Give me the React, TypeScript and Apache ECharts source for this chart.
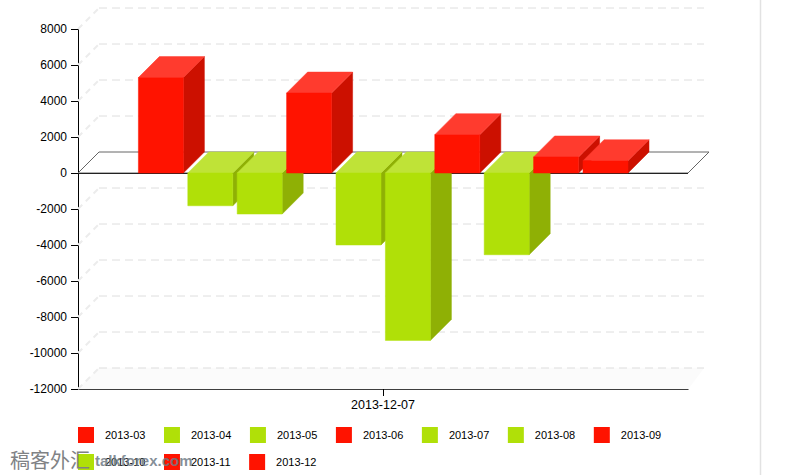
import React, { useEffect, useRef } from "react";
import * as echarts from "echarts";

const categories = ["2013-12-07"];
const seriesNames = ["2013-03", "2013-04", "2013-05", "2013-06", "2013-07", "2013-08", "2013-09", "2013-10", "2013-11", "2013-12"];
const seriesValues = [5300, -1820, -2280, 4440, -4000, -9300, 2130, -4540, 890, 680];
const gridTicks = [8000, 6000, 4000, 2000, -2000, -4000, -6000, -8000, -10000, -12000];
const legendRowOne = seriesNames.slice(0, 7);
const legendRowTwo = seriesNames.slice(7);

const RED = { front: "#ff1300", top: "#ff3b2e", side: "#cc1000" };
const GREEN = { front: "#b0e008", top: "#bfe337", side: "#8fb005" };
const DEPTH = 21;
const BAR_WIDTH = 45;
const BAR_PITCH = 49.4;
const BAR_SHIFT = 0.2;

function polygon(points: number[][], fill: string, z2 = 0) {
  return { type: "polygon", silent: true, z2, shape: { points }, style: { fill, stroke: fill, lineWidth: 0.5 } };
}

function renderBar(params: any, api: any) {
  const index = params.seriesIndex - 1;
  const count = seriesNames.length;
  const center = api.coord([api.value(0), 0])[0];
  const x0 = center + BAR_SHIFT + (index - (count - 1) / 2) * BAR_PITCH - BAR_WIDTH / 2;
  const x1 = x0 + BAR_WIDTH;
  const yZero = api.coord([api.value(0), 0])[1];
  const yValue = api.coord([api.value(0), api.value(1)])[1];
  const yTop = Math.min(yZero, yValue);
  const yBottom = Math.max(yZero, yValue);
  const c = api.value(1) >= 0 ? RED : GREEN;
  return {
    type: "group",
    children: [
      polygon([[x1, yTop], [x1 + DEPTH, yTop - DEPTH], [x1 + DEPTH, yBottom - DEPTH], [x1, yBottom]], c.side),
      polygon([[x0, yTop], [x0 + DEPTH, yTop - DEPTH], [x1 + DEPTH, yTop - DEPTH], [x1, yTop]], c.top),
      polygon([[x0, yTop], [x1, yTop], [x1, yBottom], [x0, yBottom]], c.front),
    ],
  };
}

function renderBackdrop(params: any, api: any) {
  const sys = params.coordSys;
  const left = sys.x;
  const right = sys.x + sys.width;
  const y = api.coord([api.value(0), api.value(1)])[1];
  const dash = { stroke: "#dedede", lineWidth: 1, lineDash: [8, 5] };
  const children: any[] = [
    { type: "line", silent: true, shape: { x1: left, y1: y, x2: left + DEPTH, y2: y - DEPTH }, style: { stroke: "#ececec", lineWidth: 2, lineDash: [6, 5] } },
    { type: "line", silent: true, shape: { x1: left + DEPTH, y1: y - DEPTH, x2: right + 16, y2: y - DEPTH }, style: dash },
  ];
  if (api.value(1) === gridTicks[gridTicks.length - 1]) {
    children.unshift(polygon([[left, y], [left + DEPTH, y - DEPTH], [right + 16, y - DEPTH], [right, y]], "#fbfbfb"));
  }
  return { type: "group", children };
}

function renderFloor(params: any, api: any) {
  const sys = params.coordSys;
  const left = sys.x;
  const right = sys.x + sys.width;
  const bottom = sys.y + sys.height;
  const [cx, y] = api.coord([api.value(0), 0]);
  return {
    type: "group",
    children: [
      {
        type: "polygon",
        silent: true,
        shape: { points: [[left, y], [left + DEPTH, y - DEPTH], [right + DEPTH, y - DEPTH], [right, y]] },
        style: { fill: "#ffffff", stroke: "#666666", lineWidth: 1 },
      },
      { type: "line", silent: true, shape: { x1: left, y1: y + 0.5, x2: right, y2: y + 0.5 }, style: { stroke: "#222222", lineWidth: 1 } },
      { type: "line", silent: true, shape: { x1: cx + 0.5, y1: bottom, x2: cx + 0.5, y2: bottom + 7 }, style: { stroke: "#000000", lineWidth: 1 } },
    ],
  };
}

const legendText = { color: "#000", fontFamily: "Liberation Sans", fontSize: 11, padding: [0, 0, 0, 6] };

function buildLegend(data: string[], top: number) {
  return {
    left: 78,
    top,
    padding: 0,
    orient: "horizontal",
    icon: "rect",
    itemWidth: 16,
    itemHeight: 16,
    itemGap: 18.6,
    selectedMode: false,
    data,
    textStyle: legendText,
  };
}

export default function App() {
  const ref = useRef<HTMLDivElement>(null);

  useEffect(() => {
    document.body.style.margin = "0";
    const chart = echarts.init(ref.current!, undefined, { renderer: "svg" });
    chart.setOption({
      animation: false,
      backgroundColor: "#ffffff",
      textStyle: { fontFamily: "Liberation Sans" },
      grid: { left: 78, right: 98, top: 29, height: 360 },
      legend: [buildLegend(legendRowOne, 427), buildLegend(legendRowTwo, 454)],
      xAxis: {
        type: "category",
        data: categories,
        boundaryGap: true,
        axisLine: { onZero: false, lineStyle: { color: "#000", width: 1 } },
        axisTick: { show: false },
        axisLabel: { color: "#000", fontSize: 12.5, margin: 9, fontFamily: "Liberation Sans" },
        splitLine: { show: false },
      },
      yAxis: {
        type: "value",
        min: -12000,
        max: 8000,
        interval: 2000,
        axisLine: { show: true, lineStyle: { color: "#000", width: 1 } },
        axisTick: { show: true, length: 7, lineStyle: { color: "#000" } },
        axisLabel: { color: "#000", fontSize: 12, margin: 11, fontFamily: "Liberation Sans", formatter: (v: number) => String(v) },
        splitLine: { show: false },
      },
      series: [
        {
          type: "custom",
          name: "backdrop",
          coordinateSystem: "cartesian2d",
          clip: false,
          silent: true,
          z: 1,
          encode: { x: 0, y: 1 },
          data: gridTicks.map((t) => [0, t]),
          renderItem: renderBackdrop,
        },
        ...seriesNames.map((name, i) => ({
          type: "custom",
          name,
          coordinateSystem: "cartesian2d",
          clip: false,
          silent: true,
          z: 3,
          encode: { x: 0, y: 1 },
          itemStyle: { color: seriesValues[i] >= 0 ? RED.front : GREEN.front },
          data: [[0, seriesValues[i]]],
          renderItem: renderBar,
        })),
        {
          type: "custom",
          name: "floor",
          coordinateSystem: "cartesian2d",
          clip: false,
          silent: true,
          z: 2,
          encode: { x: 0, y: 1 },
          data: [[0, 0]],
          renderItem: renderFloor,
        },
      ],
      graphic: [
        { type: "line", silent: true, z: 50, shape: { x1: 760.5, y1: 0, x2: 760.5, y2: 475 }, style: { stroke: "#e2e2e2", lineWidth: 1.5 } },
        { type: "text", silent: true, z: 100, x: 10, y: 449, style: { text: "稿客外汇", fill: "#808285", font: "normal 20px 'Noto Sans CJK SC'" } },
        { type: "text", silent: true, z: 100, x: 95, y: 453, style: { text: "talkforex.com", fill: "#6f7b86", opacity: 0.85, font: "bold 15px 'Liberation Sans'" } },
      ],
    });
    return () => chart.dispose();
  }, []);

  return <div ref={ref} style={{ position: "fixed", left: 0, top: 0, width: 786, height: 475 }} />;
}
